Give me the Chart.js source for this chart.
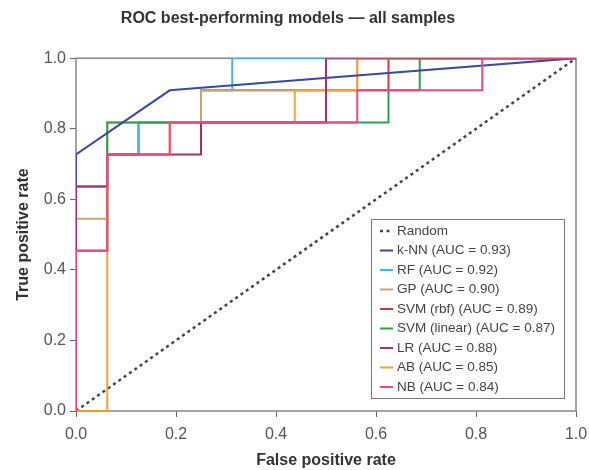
<!DOCTYPE html>
<html>
<head>
<meta charset="utf-8">
<script src="https://cdn.jsdelivr.net/npm/chart.js@4.4.1/dist/chart.umd.min.js"></script>
<style>
  html, body { margin: 0; padding: 0; background: #fff; }
  #wrap { width: 589px; height: 470px; }
</style>
</head>
<body>
<div id="wrap"><canvas id="roc" width="589" height="470"></canvas></div>
<script>
// ROC data: false positive rate / true positive rate per model
const xTicks = [0, 0.2, 0.4, 0.6, 0.8, 1.0];
const yTicks = [0, 0.2, 0.4, 0.6, 0.8, 1.0];

const randomFpr = [0, 1];
const randomTpr = [0, 1];

const knnFpr = [0, 0, 0.1875, 1];
const knnTpr = [0, 0.727, 0.909, 1];

const rfFpr = [0, 0, 0.0625, 0.0625, 0.125, 0.125, 0.25, 0.25, 0.3125, 0.3125, 1];
const rfTpr = [0, 0.4545, 0.4545, 0.727, 0.727, 0.818, 0.818, 0.909, 0.909, 1, 1];

const gpFpr = [0, 0, 0.0625, 0.0625, 0.25, 0.25, 0.5625, 0.5625, 1];
const gpTpr = [0, 0.545, 0.545, 0.818, 0.818, 0.909, 0.909, 1, 1];

const rbfFpr = [0, 0, 0.0625, 0.0625, 0.125, 0.125, 0.25, 0.25, 0.625, 0.625, 1];
const rbfTpr = [0, 0.4545, 0.4545, 0.727, 0.727, 0.818, 0.818, 0.909, 0.909, 1, 1];

const linFpr = [0, 0, 0.0625, 0.0625, 0.625, 0.625, 0.6875, 0.6875, 1];
const linTpr = [0, 0.636, 0.636, 0.818, 0.818, 0.909, 0.909, 1, 1];

const lrFpr = [0, 0, 0.0625, 0.0625, 0.25, 0.25, 0.5, 0.5, 1];
const lrTpr = [0, 0.636, 0.636, 0.727, 0.727, 0.818, 0.818, 1, 1];

const abFpr = [0, 0.0625, 0.0625, 0.1875, 0.1875, 0.4375, 0.4375, 0.5625, 0.5625, 1];
const abTpr = [0, 0, 0.727, 0.727, 0.818, 0.818, 0.909, 0.909, 1, 1];

const nbFpr = [0, 0, 0.0625, 0.0625, 0.1875, 0.1875, 0.5625, 0.5625, 0.8125, 0.8125, 1];
const nbTpr = [0, 0.4545, 0.4545, 0.727, 0.727, 0.818, 0.818, 0.909, 0.909, 1, 1];

function pts(xs, ys) {
    return xs.map((x, i) => ({ x: x, y: ys[i] }));
}

function curve(label, xs, ys, color, order) {
    return {
        label: label, data: pts(xs, ys), borderColor: color, backgroundColor: color,
        borderWidth: 2, pointRadius: 0, tension: 0, fill: false, order: order
    };
}

const datasets = [
    {
        label: 'Random', data: pts(randomFpr, randomTpr), borderColor: '#444444',
        borderWidth: 2.5, borderDash: [3, 3.5], pointRadius: 0, fill: false, order: 8
    },
    curve('k-NN (AUC = 0.93)', knnFpr, knnTpr, '#3a4a9f', 2),
    curve('RF (AUC = 0.92)', rfFpr, rfTpr, '#3fb6ea', 6),
    curve('GP (AUC = 0.90)', gpFpr, gpTpr, '#c9a478', 5),
    curve('SVM (rbf) (AUC = 0.89)', rbfFpr, rbfTpr, '#d3343f', 7),
    curve('SVM (linear) (AUC = 0.87)', linFpr, linTpr, '#2fa04c', 4),
    curve('LR (AUC = 0.88)', lrFpr, lrTpr, '#a0336a', 1),
    curve('AB (AUC = 0.85)', abFpr, abTpr, '#f6a035', 3),
    curve('NB (AUC = 0.84)', nbFpr, nbTpr, '#ec4a85', 0)
];

// frame round the plot area
const framePlugin = {
    id: 'frame',
    beforeDatasetsDraw(chart) {
        const a = chart.chartArea, ctx = chart.ctx;
        ctx.save();
        ctx.strokeStyle = '#858585';
        ctx.lineWidth = 1.5;
        ctx.strokeRect(a.left, a.top, a.right - a.left, a.bottom - a.top);
        ctx.restore();
    }
};

// legend box inside the plot, lower right
const boxLegend = {
    id: 'boxLegend',
    afterDraw(chart) {
        const ctx = chart.ctx;
        const left = 371, top = 219, w = 193, h = 179;
        ctx.save();
        ctx.fillStyle = '#ffffff';
        ctx.fillRect(left, top, w, h);
        ctx.strokeStyle = '#7a7a7a';
        ctx.lineWidth = 1;
        ctx.strokeRect(left + 0.5, top + 0.5, w, h);
        ctx.font = '13.5px "Liberation Sans", Arial, sans-serif';
        ctx.textBaseline = 'middle';
        chart.data.datasets.forEach((ds, i) => {
            const y = 231 + i * 19.5;
            ctx.strokeStyle = ds.borderColor;
            ctx.lineWidth = ds.borderWidth;
            ctx.setLineDash(ds.borderDash || []);
            ctx.beginPath();
            ctx.moveTo(380, y);
            ctx.lineTo(393, y);
            ctx.stroke();
            ctx.setLineDash([]);
            ctx.fillStyle = '#444444';
            ctx.fillText(ds.label, 397, y);
        });
        ctx.restore();
    }
};

const tickFont = { family: '"Liberation Sans", Arial, sans-serif', size: 16 };
const titleFont = { family: '"Liberation Sans", Arial, sans-serif', size: 16, weight: 'bold' };

new Chart(document.getElementById('roc'), {
    type: 'line',
    data: { datasets: datasets },
    options: {
        responsive: false,
        animation: false,
        layout: { padding: { left: 0, right: 13, top: 0, bottom: 0 } },
        plugins: {
            legend: { display: false },
            tooltip: { enabled: false },
            title: {
                display: true,
                text: 'ROC best-performing models — all samples',
                color: '#333333',
                font: titleFont,
                padding: { top: 9, bottom: 30 }
            }
        },
        scales: {
            x: {
                type: 'linear', min: 0, max: 1,
                afterBuildTicks: s => { s.ticks = xTicks.map(v => ({ value: v })); },
                afterFit: s => { s.height = 59; s.paddingLeft = 0; s.paddingRight = 0; },
                ticks: { color: '#555555', font: tickFont, padding: 8, callback: v => v.toFixed(1) },
                grid: { drawOnChartArea: false, drawTicks: true, tickLength: 6, color: '#666666' },
                border: { display: false },
                title: { display: true, text: 'False positive rate', color: '#333333', font: titleFont, padding: { top: 0, bottom: 0 } }
            },
            y: {
                type: 'linear', min: 0, max: 1,
                afterBuildTicks: s => { s.ticks = yTicks.map(v => ({ value: v })); },
                afterFit: s => { s.width = 76; },
                ticks: { color: '#555555', font: tickFont, padding: 4, callback: v => v.toFixed(1) },
                grid: { drawOnChartArea: false, drawTicks: true, tickLength: 6, color: '#666666' },
                border: { display: false },
                title: { display: true, text: 'True positive rate', color: '#333333', font: titleFont, padding: { top: 14, bottom: 0 } }
            }
        }
    },
    plugins: [framePlugin, boxLegend]
});
</script>
</body>
</html>
